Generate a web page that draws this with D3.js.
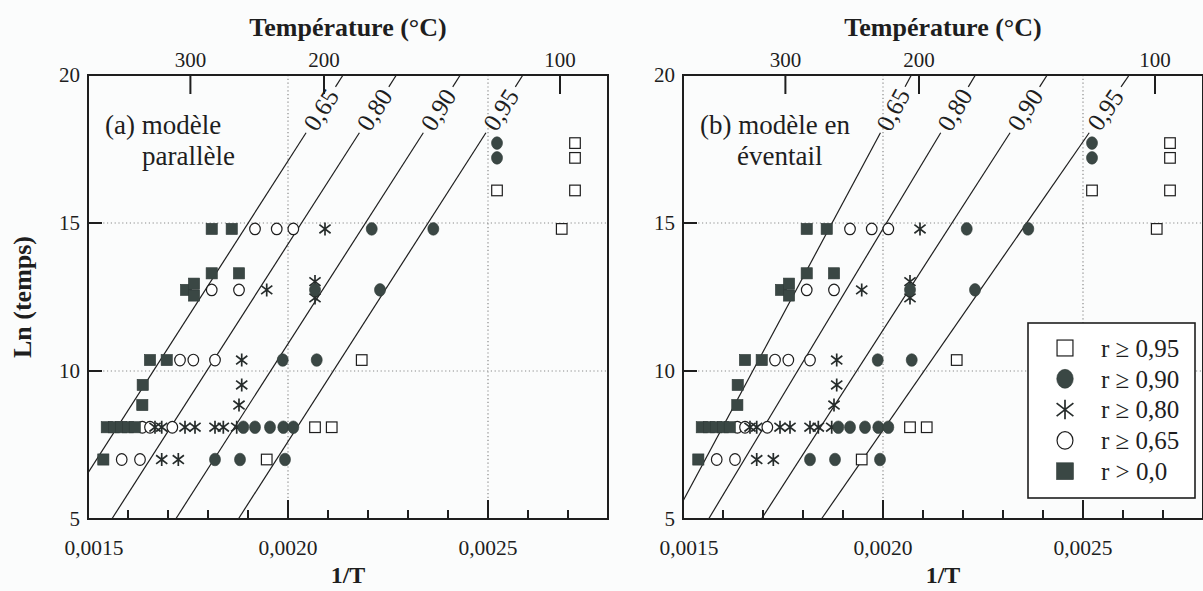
<!DOCTYPE html>
<html><head><meta charset="utf-8">
<script src="https://cdn.jsdelivr.net/npm/d3@7"></script>
<style>
body{margin:0;background:#fbfcfc}
svg{display:block}
text{font-family:"Liberation Serif","DejaVu Serif",serif;fill:#1e1e1e}
</style></head>
<body><svg id="c" width="1203" height="591"></svg>
<script>
// ---------- data ----------
const xMajorTicks = [0.0015, 0.0020, 0.0025];
const xMajorLabels = ["0,0015", "0,0020", "0,0025"];
const xMinorTicks = [0.0016, 0.0017, 0.0018, 0.0019, 0.0021, 0.0022, 0.0023, 0.0024, 0.0026, 0.0027];
const yTicks = [5, 10, 15, 20];
const xGrid = [0.0020, 0.0025];
const yGrid = [10, 15];
const tempLabels = ["300", "200", "100"];
const tempPositions = [0.001756, 0.00209, 0.00268];   // 1/T where the °C ticks sit
const isoLabels = ["0,65", "0,80", "0,90", "0,95"];
// iso-lines: 1/T at Ln(temps)=5 and at Ln(temps)=20
const parallelLow  = [0.0014262, 0.0015595, 0.0017193, 0.0018758];
const parallelHigh = [0.0021377, 0.0022710, 0.0024308, 0.0025873];
const fanLow  = [0.001476, 0.001564, 0.001696, 0.001846];
const fanHigh = [0.002071, 0.002231, 0.0024106, 0.0026156];

const openSquares = [[0.0026843,14.8],[0.0025225,16.1],[0.0027175,16.1],[0.0027175,17.2],[0.0027175,17.7],
  [0.0021843,10.37],[0.0020675,8.1],[0.0021093,8.1],[0.0019468,7.01]];
const filledCircles = [[0.0025225,17.2],[0.0025225,17.7],[0.0022093,14.8],[0.0023633,14.8],[0.0020675,12.74],
  [0.00223,12.74],[0.0019868,10.37],[0.0020718,10.37],[0.0018883,8.1],[0.0019175,8.1],[0.001955,8.1],
  [0.0019883,8.1],[0.0020133,8.1],[0.0018175,7.01],[0.00188,7.01],[0.0019925,7.01]];
const asterisks = [[0.0020925,14.8],[0.0019468,12.74],[0.0020675,13.02],[0.0020675,12.47],[0.0018843,10.37],
  [0.0018843,9.53],[0.0018775,8.85],[0.0016675,8.1],[0.0016843,8.1],[0.0017425,8.1],[0.0017675,8.1],
  [0.0018175,8.1],[0.0018383,8.1],[0.0018718,8.1],[0.0016843,7.01],[0.0017258,7.01]];
const openCircles = [[0.0019175,14.8],[0.0019718,14.8],[0.0020133,14.8],[0.0018093,12.74],[0.0018775,12.74],
  [0.00173,10.37],[0.0017633,10.37],[0.0018175,10.37],[0.0016358,8.1],[0.001655,8.1],[0.0017108,8.1],
  [0.0015843,7.01],[0.00163,7.01]];
const filledSquares = [[0.0018093,14.8],[0.0018593,14.8],[0.0018093,13.3],[0.0018775,13.3],[0.001745,12.74],
  [0.001765,12.95],[0.001765,12.55],[0.001655,10.37],[0.0016968,10.37],[0.0016368,9.53],[0.0016358,8.85],
  [0.001547,8.1],[0.001565,8.1],[0.001583,8.1],[0.0016,8.1],[0.001617,8.1],[0.0015383,7.01]];
const legendLabels = ["r \u2265 0,95", "r \u2265 0,90", "r \u2265 0,80", "r \u2265 0,65", "r > 0,0"];
const legendKinds = ["openSquare", "filledCircle", "asterisk", "openCircle", "filledSquare"];

// ---------- drawing ----------
const svg = d3.select("#c");
const INK = "#1e1e1e", DARK = "#3a4744";

function marker(g, kind, x, y, s) {
  s = s || 1;
  if (kind === "openSquare") g.append("rect").attr("x", x-5.3*s).attr("y", y-5.3*s).attr("width", 10.6*s).attr("height", 10.6*s)
      .attr("fill", "#fff").attr("stroke", INK).attr("stroke-width", 1.2);
  else if (kind === "filledSquare") g.append("rect").attr("x", x-5.6*s).attr("y", y-5.6*s).attr("width", 11.2*s).attr("height", 11.2*s)
      .attr("fill", DARK).attr("stroke", "#2f3a38").attr("stroke-width", 0.6);
  else if (kind === "openCircle") g.append("ellipse").attr("cx", x).attr("cy", y).attr("rx", 5.3*s).attr("ry", 5.8*s)
      .attr("fill", "#fff").attr("stroke", INK).attr("stroke-width", 1.2);
  else if (kind === "filledCircle") g.append("ellipse").attr("cx", x).attr("cy", y).attr("rx", 5.5*s).attr("ry", 6.3*s)
      .attr("fill", DARK).attr("stroke", "#2f3a38").attr("stroke-width", 0.6);
  else if (kind === "asterisk") {
    const v = 6.5*s, hx = 5.6*s, hy = 4.3*s;
    const p = `M${x},${y-v}L${x},${y+v}M${x-hx},${y-hy}L${x+hx},${y+hy}M${x-hx},${y+hy}L${x+hx},${y-hy}`;
    g.append("path").attr("d", p).attr("stroke", "#262c2b").attr("stroke-width", 1.7).attr("fill", "none");
  }
}

function panel(x0, lowArr, highArr, title1, title2, showYLabel, showLegend) {
  const W = 520, top = 75, bottom = 519;
  const x = d3.scaleLinear().domain([0.0015, 0.0028]).range([x0, x0 + W]);
  const y = d3.scaleLinear().domain([5, 20]).range([bottom, top]);
  const g = svg.append("g");
  const cid = "clip" + x0;
  svg.append("clipPath").attr("id", cid).append("rect").attr("x", x0).attr("y", top).attr("width", W).attr("height", bottom - top);

  // grid
  g.selectAll(".gx").data(xGrid).enter().append("line")
    .attr("x1", d => x(d)).attr("x2", d => x(d)).attr("y1", top).attr("y2", bottom)
    .attr("stroke", "#8a8a8a").attr("stroke-width", 1.2).attr("stroke-dasharray", "1.2,2.6");
  g.selectAll(".gy").data(yGrid).enter().append("line")
    .attr("x1", x0).attr("x2", x0 + W).attr("y1", d => y(d)).attr("y2", d => y(d))
    .attr("stroke", "#8a8a8a").attr("stroke-width", 1.2).attr("stroke-dasharray", "1.2,2.6");

  // iso-lines with inline labels
  const lg = g.append("g").attr("clip-path", `url(#${cid})`);
  const gapLow = 18.05, gapHigh = 19.6, labAt = 18.83;
  lowArr.forEach((lo, i) => {
    const hi = highArr[i];
    const at = v => lo + (hi - lo) * (v - 5) / 15;
    lg.append("line").attr("x1", x(lo)).attr("y1", y(5)).attr("x2", x(at(gapLow))).attr("y2", y(gapLow))
      .attr("stroke", INK).attr("stroke-width", 1.2);
    lg.append("line").attr("x1", x(at(gapHigh))).attr("y1", y(gapHigh)).attr("x2", x(hi)).attr("y2", y(20))
      .attr("stroke", INK).attr("stroke-width", 1.2);
    const ang = Math.atan2(y(20) - y(5), x(hi) - x(lo)) * 180 / Math.PI;
    g.append("text").attr("transform", `translate(${x(at(labAt))},${y(labAt)}) rotate(${ang})`)
      .attr("text-anchor", "middle").attr("dy", "0.35em").attr("font-size", 25).text(isoLabels[i]);
  });

  // markers
  const mg = g.append("g");
  [["openSquare", openSquares], ["openCircle", openCircles], ["asterisk", asterisks],
   ["filledCircle", filledCircles], ["filledSquare", filledSquares]].forEach(([k, arr]) => {
    arr.forEach(d => marker(mg, k, x(d[0]), y(d[1])));
  });

  // frame
  g.append("rect").attr("x", x0).attr("y", top).attr("width", W).attr("height", bottom - top)
    .attr("fill", "none").attr("stroke", INK).attr("stroke-width", 2);

  // bottom ticks
  g.selectAll(".mj").data(xMajorTicks.slice(1)).enter().append("line")
    .attr("x1", d => x(d)).attr("x2", d => x(d)).attr("y1", bottom).attr("y2", bottom - 19)
    .attr("stroke", INK).attr("stroke-width", 2);
  g.selectAll(".mn").data(xMinorTicks).enter().append("line")
    .attr("x1", d => x(d)).attr("x2", d => x(d)).attr("y1", bottom).attr("y2", bottom - 9)
    .attr("stroke", INK).attr("stroke-width", 2);
  g.selectAll(".xl").data(xMajorTicks).enter().append("text")
    .attr("x", d => x(d) + (d === 0.0015 ? 6 : 0)).attr("y", 555).attr("text-anchor", "middle")
    .attr("font-size", 21.5).text((d, i) => xMajorLabels[i]);
  g.append("text").attr("x", x0 + W / 2).attr("y", 583).attr("text-anchor", "middle")
    .attr("font-size", 24).attr("font-weight", "bold").text("1/T");

  // left ticks
  g.selectAll(".yt").data([10, 15]).enter().append("line")
    .attr("x1", x0).attr("x2", x0 + 14).attr("y1", d => y(d)).attr("y2", d => y(d))
    .attr("stroke", INK).attr("stroke-width", 2);
  g.selectAll(".yl").data(yTicks).enter().append("text")
    .attr("x", x0 - 8).attr("y", d => y(d)).attr("dy", "0.35em").attr("text-anchor", "end")
    .attr("font-size", 21).text(d => d);

  // top temperature axis
  g.selectAll(".tt").data(tempPositions).enter().append("line")
    .attr("x1", d => x(d)).attr("x2", d => x(d)).attr("y1", top).attr("y2", top + 19)
    .attr("stroke", INK).attr("stroke-width", 2);
  g.selectAll(".tl").data(tempPositions).enter().append("text")
    .attr("x", d => x(d)).attr("y", 67).attr("text-anchor", "middle")
    .attr("font-size", 21).text((d, i) => tempLabels[i]);
  g.append("text").attr("x", x0 + W / 2).attr("y", 36).attr("text-anchor", "middle")
    .attr("font-size", 26).attr("font-weight", "bold").text("Température (°C)");

  // panel caption
  g.append("text").attr("x", x0 + 17).attr("y", 134).attr("font-size", 27).text(title1);
  g.append("text").attr("x", x0 + 54).attr("y", 165).attr("font-size", 27).text(title2);

  if (showYLabel) {
    g.append("text").attr("transform", `translate(31,${(top + bottom) / 2}) rotate(-90)`)
      .attr("text-anchor", "middle").attr("font-size", 26).attr("font-weight", "bold").text("Ln (temps)");
  }
  if (showLegend) {
    const lgd = g.append("g");
    lgd.append("rect").attr("x", 1028).attr("y", 323).attr("width", 167).attr("height", 175)
      .attr("fill", "#fff").attr("stroke", INK).attr("stroke-width", 1.6);
    legendKinds.forEach((k, i) => {
      const yy = 348 + i * 30.8;
      marker(lgd, k, 1065, yy, 1.5);
      lgd.append("text").attr("x", 1101).attr("y", yy).attr("dy", "0.35em").attr("font-size", 25).text(legendLabels[i]);
    });
  }
}

panel(88, parallelLow, parallelHigh, "(a) modèle", "parallèle", true, false);
panel(683, fanLow, fanHigh, "(b) modèle en", "éventail", false, true);
</script></body></html>
